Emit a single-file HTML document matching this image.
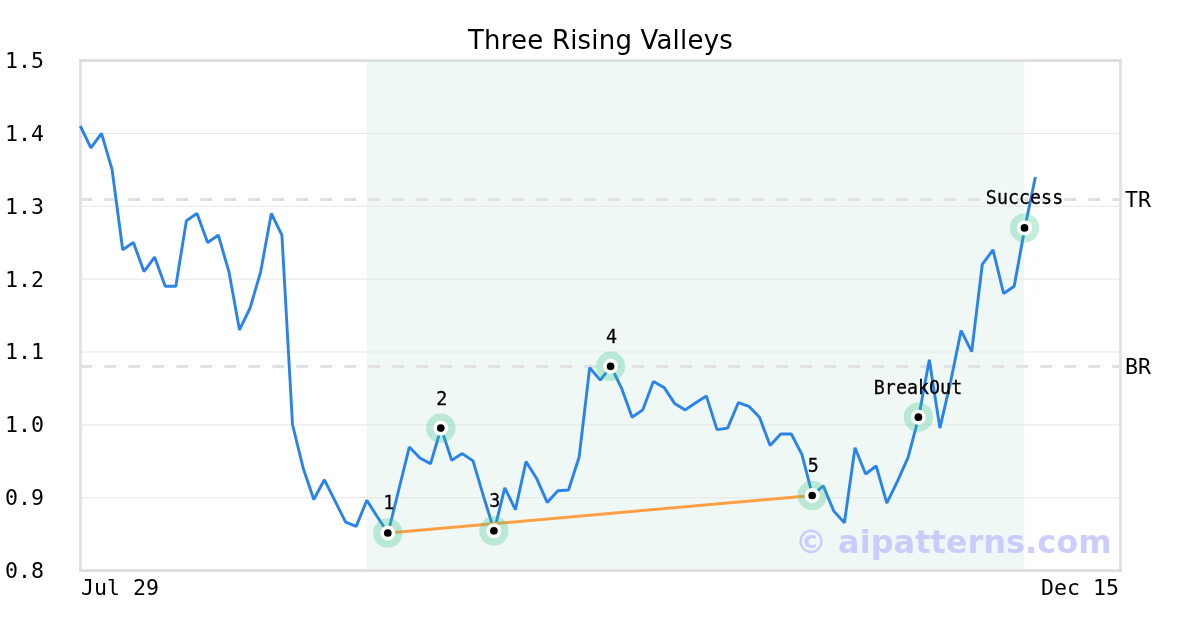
<!DOCTYPE html>
<html lang="en"><head><meta charset="utf-8"><title>Three Rising Valleys</title>
<style>html,body{margin:0;padding:0;background:#fff}body{width:1200px;height:630px;overflow:hidden}svg{display:block}.tk{font-family:"DejaVu Sans Mono","Liberation Mono",monospace;font-size:21.6px;fill:#000}.an,.ah{font-family:"DejaVu Sans Mono","Liberation Mono",monospace;font-size:18.3px;letter-spacing:.04px;fill:#000;text-anchor:middle}.an{stroke:#000;stroke-width:.3px}.ah{fill:none;stroke:#fff;stroke-opacity:.6;stroke-width:2.2px;stroke-linejoin:round}.tt{font-family:"DejaVu Sans","Liberation Sans",sans-serif;font-size:26px;letter-spacing:.19px;fill:#000;text-anchor:middle}.wm{font-family:"DejaVu Sans","Liberation Sans",sans-serif;font-size:32px;font-weight:bold;fill:#c0c0fd;fill-opacity:.8;text-anchor:end}</style></head><body>
<svg width="1200" height="630" viewBox="0 0 1200 630">
<rect width="1200" height="630" fill="#fff"/>
<rect x="366.6" y="60.57" width="657.7" height="510.0" fill="#f0f8f5"/>
<line x1="80.5" x2="1120.5" y1="497.71" y2="497.71" stroke="#e6e6e6" stroke-width="1"/>
<line x1="80.5" x2="1120.5" y1="424.86" y2="424.86" stroke="#e6e6e6" stroke-width="1"/>
<line x1="80.5" x2="1120.5" y1="352.00" y2="352.00" stroke="#e6e6e6" stroke-width="1"/>
<line x1="80.5" x2="1120.5" y1="279.14" y2="279.14" stroke="#e6e6e6" stroke-width="1"/>
<line x1="80.5" x2="1120.5" y1="206.29" y2="206.29" stroke="#e6e6e6" stroke-width="1"/>
<line x1="80.5" x2="1120.5" y1="133.43" y2="133.43" stroke="#e6e6e6" stroke-width="1"/>
<line x1="80.33" x2="1120.5" y1="199.5" y2="199.5" stroke="#e1e1e1" stroke-width="3" stroke-dasharray="12 12"/>
<line x1="80.33" x2="1120.5" y1="366.4" y2="366.4" stroke="#e1e1e1" stroke-width="3" stroke-dasharray="12 12"/>
<rect x="79" y="59.2" width="3" height="512.7" fill="#e3e3e3"/><rect x="1119" y="59.2" width="3" height="512.7" fill="#e3e3e3"/>
<rect x="79" y="59.22" width="1043" height="2.74" fill="#dddddd"/><rect x="79" y="569.22" width="1043" height="2.74" fill="#dddddd"/>
<text class="ah" transform="translate(388.8 509.42) scale(1 1.045)">1</text>
<text class="ah" transform="translate(441.8 404.59) scale(1 1.045)">2</text>
<text class="ah" transform="translate(494.9 507.24) scale(1 1.045)">3</text>
<text class="ah" transform="translate(611.6 342.71) scale(1 1.045)">4</text>
<text class="ah" transform="translate(813.2 471.93) scale(1 1.045)">5</text>
<text class="ah" transform="translate(918.0 393.67) scale(1 1.045)">BreakOut</text>
<text class="ah" transform="translate(1024.5 204.39) scale(1 1.045)">Success</text>
<polyline points="80.3,126.0 90.9,147.9 101.5,133.3 112.1,169.7 122.7,249.8 133.4,242.5 144.0,271.6 154.6,257.1 165.2,286.2 175.8,286.2 186.4,220.7 197.0,213.4 207.6,242.5 218.3,235.2 228.9,271.6 239.5,329.9 250.1,308.0 260.7,271.6 271.3,213.4 281.9,235.2 292.5,424.5 303.2,468.2 313.8,499.5 324.4,479.8 335.0,500.9 345.6,522.1 356.2,526.4 366.8,500.2 377.4,517.0 388.1,533.0 398.7,490.0 409.3,447.1 419.9,458.0 430.5,463.8 441.1,428.1 451.7,460.2 462.3,453.6 473.0,460.9 483.6,496.6 494.2,530.8 504.8,487.8 515.4,509.7 526.0,461.6 536.6,478.4 547.2,502.4 557.9,490.7 568.5,490.0 579.1,457.3 589.7,367.7 600.3,380.1 610.9,366.3 621.5,388.1 632.1,417.2 642.7,409.9 653.4,381.5 664.0,387.4 674.6,403.4 685.2,409.9 695.8,402.7 706.4,396.1 717.0,429.6 727.6,428.1 738.3,402.7 748.9,406.3 759.5,417.2 770.1,445.6 780.7,434.0 791.3,434.0 801.9,454.3 812.5,495.5 823.2,485.7 833.8,511.1 844.4,522.8 855.0,447.8 865.6,474.0 876.2,466.0 886.8,503.1 897.4,481.3 908.1,457.3 918.7,417.2 929.3,359.7 939.9,428.1 950.5,382.3 961.1,330.6 971.7,351.7 982.3,264.3 993.0,249.8 1003.6,293.5 1014.2,286.2 1024.8,227.9 1035.4,177.0" fill="none" stroke="#2983ea" stroke-width="2.9" stroke-linejoin="bevel" stroke-linecap="butt"/>
<line x1="388.1" y1="533.0" x2="812.5" y2="495.5" stroke="#ff9f43" stroke-width="2.95"/>
<circle cx="387.8" cy="533.0" r="14.7" fill="#32c186" fill-opacity="0.29"/>
<circle cx="440.8" cy="428.1" r="14.7" fill="#32c186" fill-opacity="0.29"/>
<circle cx="493.9" cy="530.8" r="14.7" fill="#32c186" fill-opacity="0.29"/>
<circle cx="610.6" cy="366.3" r="14.7" fill="#32c186" fill-opacity="0.29"/>
<circle cx="812.2" cy="495.5" r="14.7" fill="#32c186" fill-opacity="0.29"/>
<circle cx="918.4" cy="417.2" r="14.7" fill="#32c186" fill-opacity="0.29"/>
<circle cx="1024.5" cy="227.9" r="14.7" fill="#32c186" fill-opacity="0.29"/>
<circle cx="387.8" cy="533.0" r="7.55" fill="#fff"/>
<circle cx="387.8" cy="533.0" r="3.85" fill="#000"/>
<circle cx="440.8" cy="428.1" r="7.55" fill="#fff"/>
<circle cx="440.8" cy="428.1" r="3.85" fill="#000"/>
<circle cx="493.9" cy="530.8" r="7.55" fill="#fff"/>
<circle cx="493.9" cy="530.8" r="3.85" fill="#000"/>
<circle cx="610.6" cy="366.3" r="7.55" fill="#fff"/>
<circle cx="610.6" cy="366.3" r="3.85" fill="#000"/>
<circle cx="812.2" cy="495.5" r="7.55" fill="#fff"/>
<circle cx="812.2" cy="495.5" r="3.85" fill="#000"/>
<circle cx="918.4" cy="417.2" r="7.55" fill="#fff"/>
<circle cx="918.4" cy="417.2" r="3.85" fill="#000"/>
<circle cx="1024.5" cy="227.9" r="7.55" fill="#fff"/>
<circle cx="1024.5" cy="227.9" r="3.85" fill="#000"/>
<text class="an" transform="translate(388.8 509.42) scale(1 1.045)">1</text>
<text class="an" transform="translate(441.8 404.59) scale(1 1.045)">2</text>
<text class="an" transform="translate(494.9 507.24) scale(1 1.045)">3</text>
<text class="an" transform="translate(611.6 342.71) scale(1 1.045)">4</text>
<text class="an" transform="translate(813.2 471.93) scale(1 1.045)">5</text>
<text class="an" transform="translate(918.0 393.67) scale(1 1.045)">BreakOut</text>
<text class="an" transform="translate(1024.5 204.39) scale(1 1.045)">Success</text>
<text class="wm" x="1111.5" y="552.5">© aipatterns.com</text>
<text class="tk" x="5.1" y="577.7">0.8</text>
<text class="tk" x="5.1" y="504.9">0.9</text>
<text class="tk" x="5.1" y="432.1">1.0</text>
<text class="tk" x="5.1" y="359.3">1.1</text>
<text class="tk" x="5.1" y="286.5">1.2</text>
<text class="tk" x="5.1" y="213.7">1.3</text>
<text class="tk" x="5.1" y="140.9">1.4</text>
<text class="tk" x="5.1" y="68.1">1.5</text>
<text class="tk" x="81.1" y="594.9">Jul 29</text>
<text class="tk" x="1119.0" y="594.9" text-anchor="end">Dec 15</text>
<text class="tk" x="1124.9" y="207.2">TR</text>
<text class="tk" x="1124.9" y="374.1">BR</text>
<text class="tt" x="600.5" y="48.7">Three Rising Valleys</text>
</svg></body></html>
